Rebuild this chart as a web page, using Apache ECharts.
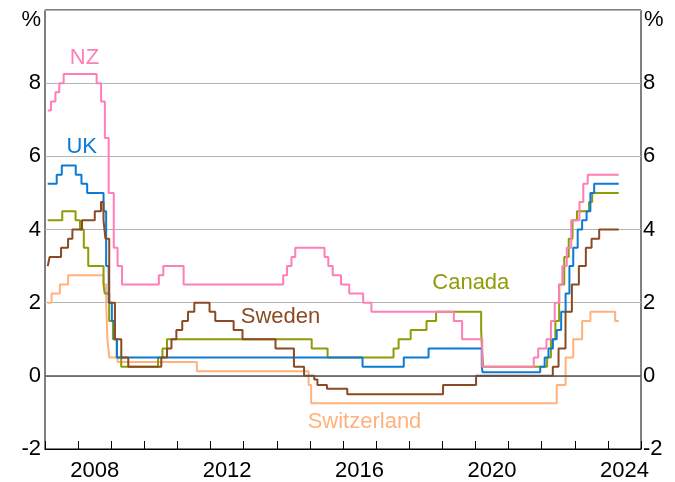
<!DOCTYPE html>
<html>
<head>
<meta charset="utf-8">
<script src="https://cdn.jsdelivr.net/npm/echarts@6/dist/echarts.min.js"></script>
<style>
html,body{margin:0;padding:0;background:#fff;}
#c{width:675px;height:482px;}
</style>
</head>
<body>
<div id="c"></div>
<script>
// Policy rates, % (date of change, new rate); last point = end of sample
const nzRates = [['2007-01-31',7.25],['2007-03-08',7.5],['2007-04-26',7.75],['2007-06-07',8.0],['2007-07-26',8.25],['2008-07-24',8.0],['2008-09-11',7.5],['2008-10-23',6.5],['2008-12-04',5.0],['2009-01-29',3.5],['2009-03-12',3.0],['2009-04-30',2.5],['2010-06-10',2.75],['2010-07-29',3.0],['2011-03-10',2.5],['2014-03-13',2.75],['2014-04-24',3.0],['2014-06-12',3.25],['2014-07-24',3.5],['2015-06-11',3.25],['2015-07-23',3.0],['2015-09-10',2.75],['2015-12-10',2.5],['2016-03-10',2.25],['2016-08-11',2.0],['2016-11-10',1.75],['2019-05-08',1.5],['2019-08-07',1.0],['2020-03-16',0.25],['2021-10-06',0.5],['2021-11-24',0.75],['2022-02-23',1.0],['2022-04-13',1.5],['2022-05-25',2.0],['2022-07-13',2.5],['2022-08-17',3.0],['2022-10-05',3.5],['2022-11-23',4.25],['2023-02-22',4.75],['2023-04-05',5.25],['2023-05-24',5.5],['2024-04-30',5.5]];
const ukRates = [['2007-01-31',5.25],['2007-05-10',5.5],['2007-07-05',5.75],['2007-12-06',5.5],['2008-02-07',5.25],['2008-04-10',5.0],['2008-10-08',4.5],['2008-11-06',3.0],['2008-12-04',2.0],['2009-01-08',1.5],['2009-02-05',1.0],['2009-03-05',0.5],['2016-08-04',0.25],['2017-11-02',0.5],['2018-08-02',0.75],['2020-03-11',0.25],['2020-03-19',0.1],['2021-12-16',0.25],['2022-02-03',0.5],['2022-03-17',0.75],['2022-05-05',1.0],['2022-06-16',1.25],['2022-08-04',1.75],['2022-09-22',2.25],['2022-11-03',3.0],['2022-12-15',3.5],['2023-02-02',4.0],['2023-03-23',4.25],['2023-05-11',4.5],['2023-06-22',5.0],['2023-08-03',5.25],['2024-04-30',5.25]];
const canadaRates = [['2007-01-31',4.25],['2007-07-10',4.5],['2007-12-04',4.25],['2008-01-22',4.0],['2008-03-04',3.5],['2008-04-22',3.0],['2008-10-08',2.5],['2008-10-21',2.25],['2008-12-09',1.5],['2009-01-20',1.0],['2009-03-03',0.5],['2009-04-21',0.25],['2010-06-01',0.5],['2010-07-20',0.75],['2010-09-08',1.0],['2015-01-21',0.75],['2015-07-15',0.5],['2017-07-12',0.75],['2017-09-06',1.0],['2018-01-17',1.25],['2018-07-11',1.5],['2018-10-24',1.75],['2020-03-04',1.25],['2020-03-13',0.75],['2020-03-27',0.25],['2022-03-02',0.5],['2022-04-13',1.0],['2022-06-01',1.5],['2022-07-13',2.5],['2022-09-07',3.25],['2022-10-26',3.75],['2022-12-07',4.25],['2023-01-25',4.5],['2023-06-07',4.75],['2023-07-12',5.0],['2024-04-30',5.0]];
const swedenRates = [['2007-01-31',3.0],['2007-02-21',3.25],['2007-06-27',3.5],['2007-09-12',3.75],['2007-10-30',4.0],['2008-02-13',4.25],['2008-07-03',4.5],['2008-09-10',4.75],['2008-10-08',4.25],['2008-10-29',3.75],['2008-12-10',2.0],['2009-02-11',1.0],['2009-04-22',0.5],['2009-07-08',0.25],['2010-07-07',0.5],['2010-09-08',0.75],['2010-10-27',1.0],['2010-12-20',1.25],['2011-02-23',1.5],['2011-04-27',1.75],['2011-07-06',2.0],['2011-12-21',1.75],['2012-02-22',1.5],['2012-09-12',1.25],['2012-12-19',1.0],['2013-12-18',0.75],['2014-07-09',0.25],['2014-10-29',0.0],['2015-02-18',-0.1],['2015-03-25',-0.25],['2015-07-08',-0.35],['2016-02-17',-0.5],['2019-01-09',-0.25],['2020-01-08',0.0],['2022-05-04',0.25],['2022-07-06',0.75],['2022-09-21',1.75],['2022-11-30',2.5],['2023-02-15',3.0],['2023-05-03',3.5],['2023-07-05',3.75],['2023-09-27',4.0],['2024-04-30',4.0]];
const switzerlandRates = [['2007-01-31',2.0],['2007-03-15',2.25],['2007-06-14',2.5],['2007-09-13',2.75],['2008-10-08',2.5],['2008-11-06',2.0],['2008-11-20',1.0],['2008-12-11',0.5],['2009-03-12',0.375],['2011-08-03',0.125],['2014-12-18',-0.25],['2015-01-15',-0.75],['2022-06-16',-0.25],['2022-09-22',0.5],['2022-12-15',1.0],['2023-03-23',1.5],['2023-06-22',1.75],['2024-03-21',1.5],['2024-04-30',1.5]];

const yearLabels = [2008, 2012, 2016, 2020, 2024];
const yTickLabels = [-2, 0, 2, 4, 6, 8];

const FONT = '"Liberation Sans", Arial, sans-serif';
const FS = 22;

function toYear(s) {
  const d = Date.parse(s + 'T00:00:00Z');
  const y = Number(s.slice(0, 4));
  const a = Date.UTC(y, 0, 1), b = Date.UTC(y + 1, 0, 1);
  return y + (d - a) / (b - a);
}
const conv = arr => arr.map(p => [toYear(p[0]), p[1]]);

function line(name, data, color, extra) {
  return Object.assign({
    name, type: 'line', step: 'end', data: conv(data),
    xAxisIndex: 0, yAxisIndex: 0,
    showSymbol: false, symbol: 'none', silent: true,
    lineStyle: { color, width: 2 }, itemStyle: { color },
    animation: false
  }, extra || {});
}

const yLabelFmt = v => (yTickLabels.indexOf(v) >= 0 ? String(v) : '');

const chart = echarts.init(document.getElementById('c'), null, { renderer: 'canvas' });
chart.setOption({
  animation: false,
  backgroundColor: '#fff',
  grid: { left: 45, right: 34, top: 10, bottom: 33, show: true, borderColor: '#000', borderWidth: 1, backgroundColor: 'transparent' },
  xAxis: [
    { type: 'value', min: 2007, max: 2025, interval: 1,
      axisLine: { show: true, onZero: false, lineStyle: { color: '#000', width: 1 } },
      axisTick: { show: true, inside: true, length: 8, lineStyle: { color: '#000', width: 1 } },
      axisLabel: { show: false }, splitLine: { show: false } },
    { type: 'value', min: 2006.5, max: 2024.5, interval: 0.5, position: 'bottom',
      axisLine: { show: false, onZero: false }, axisTick: { show: false }, splitLine: { show: false },
      axisLabel: { show: true, margin: 11, color: '#000', fontSize: FS, fontFamily: FONT,
        showMinLabel: true, showMaxLabel: true,
        formatter: v => (yearLabels.indexOf(v) >= 0 ? String(v) : '') } }
  ],
  yAxis: [
    { type: 'value', min: -2, max: 10, interval: 2, position: 'left',
      axisLine: { show: false }, axisTick: { show: false },
      splitLine: { show: true, lineStyle: { color: '#b4b4b4', width: 1 } },
      axisLabel: { margin: 4, color: '#000', fontSize: FS, fontFamily: FONT, formatter: yLabelFmt } },
    { type: 'value', min: -2, max: 10, interval: 2, position: 'right',
      axisLine: { show: false }, axisTick: { show: false }, splitLine: { show: false },
      axisLabel: { margin: 2, color: '#000', fontSize: FS, fontFamily: FONT, formatter: yLabelFmt } }
  ],
  series: [
    line('Switzerland', switzerlandRates, '#FFB27D', {
      markLine: { silent: true, symbol: 'none', animation: false, label: { show: false },
        lineStyle: { color: '#555', width: 1.5, type: 'solid' }, data: [{ yAxis: 0 }] }
    }),
    line('Canada', canadaRates, '#8E9C06'),
    line('UK', ukRates, '#0B7BD5'),
    line('Sweden', swedenRates, '#8B4A23'),
    line('NZ', nzRates, '#FF7EB6')
  ],
  graphic: [
    { type: 'text', x: 41, y: 20, style: { text: '%', fill: '#000', fontSize: FS, fontFamily: FONT, align: 'right', verticalAlign: 'middle' } },
    { type: 'text', x: 644, y: 20, style: { text: '%', fill: '#000', fontSize: FS, fontFamily: FONT, align: 'left', verticalAlign: 'middle' } },
    { type: 'text', x: 84.5, y: 57.5, style: { text: 'NZ', fill: '#FF7EB6', fontSize: FS, fontFamily: FONT, align: 'center', verticalAlign: 'middle' } },
    { type: 'text', x: 81.7, y: 147, style: { text: 'UK', fill: '#0B7BD5', fontSize: FS, fontFamily: FONT, align: 'center', verticalAlign: 'middle' } },
    { type: 'text', x: 280.5, y: 317, style: { text: 'Sweden', fill: '#8B4A23', fontSize: FS, fontFamily: FONT, align: 'center', verticalAlign: 'middle' } },
    { type: 'text', x: 470.8, y: 283, style: { text: 'Canada', fill: '#8E9C06', fontSize: FS, fontFamily: FONT, align: 'center', verticalAlign: 'middle' } },
    { type: 'text', x: 364.5, y: 421.7, style: { text: 'Switzerland', fill: '#FFB27D', fontSize: FS, fontFamily: FONT, align: 'center', verticalAlign: 'middle' } }
  ]
});
</script>
</body>
</html>
